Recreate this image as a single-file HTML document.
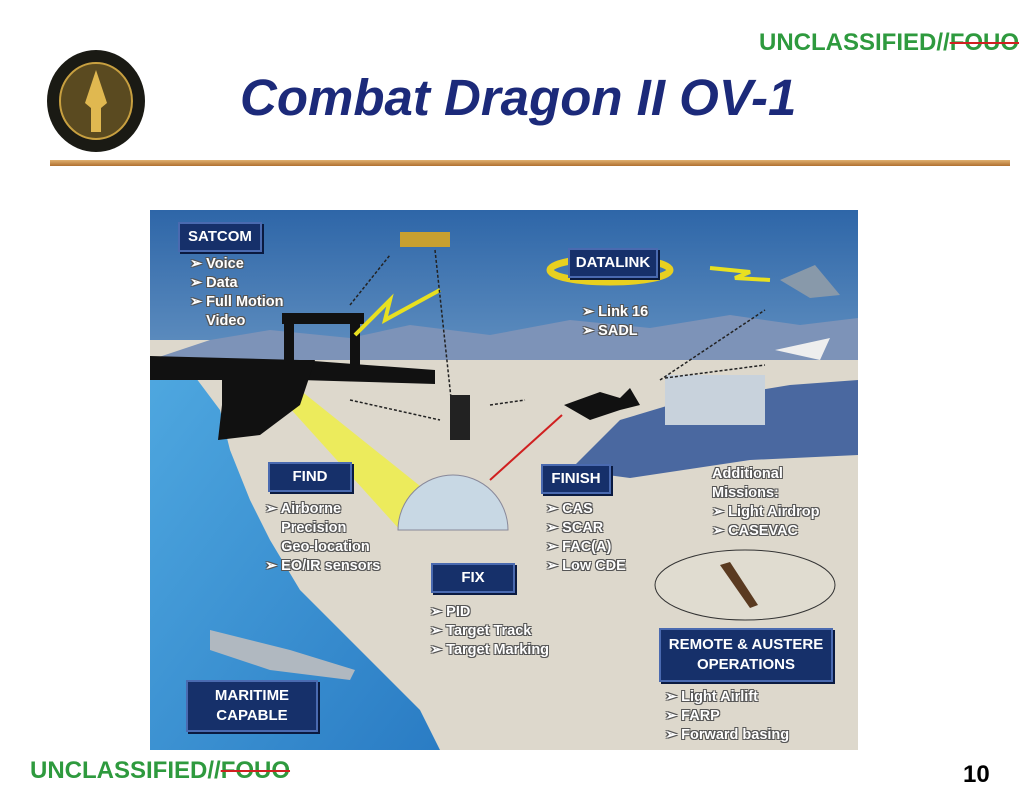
<!DOCTYPE html>
<html><head><meta charset="utf-8"><style>
body{margin:0;width:1035px;height:800px;background:#fff;position:relative;overflow:hidden;font-family:"Liberation Sans",sans-serif}
.a{position:absolute}
.box{position:absolute;background:#16306a;border:2px solid #4a6ab0;box-shadow:2px 2px 0 #0a1a40;color:#fff;font-weight:bold;font-size:15px;text-align:center;display:flex;align-items:center;justify-content:center;line-height:20px}
.t{position:absolute;color:#fff;font-weight:bold;font-size:14.5px;line-height:19px;text-shadow:-1px -1px 0 #555,1px -1px 0 #555,-1px 1px 0 #555,1px 1px 0 #555;white-space:nowrap}
.u{position:absolute;color:#2e9a3e;font-weight:bold;font-size:24px}
.u s{text-decoration-color:#d02020;text-decoration-thickness:2px}
</style></head><body>
<div class="u" style="left:759px;top:29px">UNCLASSIFIED//<s>FOUO</s></div>
<div class="u" style="left:30px;top:757px">UNCLASSIFIED//<s>FOUO</s></div>
<div class="a" style="left:963px;top:761px;font-size:24px;font-weight:bold">10</div>
<svg class="a" style="left:45px;top:48px" width="102" height="106">
<ellipse cx="51" cy="53" rx="49" ry="51" fill="#1a1a14"/>
<ellipse cx="51" cy="53" rx="36" ry="38" fill="#5a4a20" stroke="#c8a040" stroke-width="2"/>
<path d="M51 22 L62 55 L56 60 L56 84 L46 84 L46 60 L40 55 Z" fill="#e0b850"/>
</svg>
<div class="a" style="left:240px;top:68px;font-size:51px;font-weight:bold;font-style:italic;color:#1c2a7a">Combat Dragon II OV-1</div>
<div class="a" style="left:50px;top:160px;width:960px;height:6px;background:linear-gradient(#e0b070,#b07030)"></div>

<svg class="a" style="left:150px;top:210px" width="708" height="540">
<defs>
<linearGradient id="sky" x1="0" y1="0" x2="0" y2="1"><stop offset="0" stop-color="#2e66a8"/><stop offset="0.6" stop-color="#9cc0dc"/><stop offset="1" stop-color="#e4eef4"/></linearGradient>
<linearGradient id="sea" x1="0" y1="0" x2="1" y2="1"><stop offset="0" stop-color="#4fa8e0"/><stop offset="1" stop-color="#2a7cc4"/></linearGradient>
</defs>
<rect width="708" height="540" fill="url(#sky)"/>
<rect y="130" width="708" height="410" fill="#ddd8cc"/>
<path d="M60 130 L120 120 L200 128 L260 115 L340 125 L420 110 L500 118 L580 105 L650 115 L708 108 L708 150 L0 150 Z" fill="#7d93b8"/>
<path d="M420 260 L470 210 L520 195 L580 185 L640 175 L708 170 L708 245 L600 250 L480 268 Z" fill="#4a68a0"/>
<rect x="515" y="165" width="100" height="50" fill="#c8d2dc"/>
<path d="M0 150 L40 160 L70 200 L80 240 L100 290 L120 330 L150 380 L200 430 L240 470 L270 500 L290 540 L0 540 Z" fill="url(#sea)"/>
<path d="M128 185 L150 180 L300 300 L250 320 Z" fill="#f0f040" opacity="0.8"/>
<path d="M0 146 L150 150 L285 160 L285 174 L150 170 L0 170 Z" fill="#111"/>
<path d="M72 150 L165 150 L150 195 L110 225 L68 230 L72 195 Z" fill="#111"/>
<rect x="132" y="103" width="82" height="11" fill="#111"/>
<rect x="134" y="110" width="10" height="70" fill="#111"/>
<rect x="200" y="110" width="10" height="60" fill="#111"/>
<path d="M414 195 L450 182 L470 188 L480 178 L490 195 L470 200 L440 210 Z" fill="#111"/>
<line x1="340" y1="270" x2="412" y2="205" stroke="#d02020" stroke-width="2"/>
<path d="M248 320 A55 55 0 0 1 358 320 Z" fill="#c8d8e4" stroke="#889" stroke-width="1"/>
<ellipse cx="460" cy="60" rx="60" ry="12" fill="none" stroke="#e8d020" stroke-width="7"/>
<path d="M560 58 L600 62 L585 68 L620 70" stroke="#e8e020" stroke-width="4" fill="none"/>
<path d="M205 125 L240 90 L235 110 L290 80" stroke="#e8e020" stroke-width="4" fill="none"/>
<path d="M630 70 L665 55 L690 85 L660 88 Z" fill="#8899aa"/>
<path d="M625 140 L680 128 L670 150 Z" fill="#eee"/>
<rect x="250" y="22" width="50" height="15" fill="#c8a030"/>
<g stroke="#222" stroke-width="1.5" stroke-dasharray="3,2" fill="none">
<line x1="200" y1="95" x2="240" y2="45"/><line x1="285" y1="40" x2="305" y2="225"/>
<line x1="200" y1="190" x2="290" y2="210"/><line x1="340" y1="195" x2="375" y2="190"/>
<line x1="510" y1="170" x2="615" y2="100"/><line x1="515" y1="168" x2="615" y2="155"/>
</g>
<rect x="300" y="185" width="20" height="45" fill="#222"/>
<path d="M60 420 L140 440 L205 460 L200 470 L120 460 L60 440 Z" fill="#b0b8c0"/>
<ellipse cx="595" cy="375" rx="90" ry="35" fill="#e0dcd0" stroke="#333" stroke-width="1"/>
<path d="M570 355 L600 398 L608 395 L580 352 Z" fill="#5a3a20"/>
</svg>

<div class="box" style="left:178px;top:222px;width:80px;height:26px">SATCOM</div>
<div class="t" style="left:190px;top:255px">➢ Voice<br>➢ Data<br>➢ Full Motion<br>&nbsp;&nbsp;&nbsp;&nbsp;Video</div>
<div class="box" style="left:568px;top:248px;width:86px;height:26px">DATALINK</div>
<div class="t" style="left:582px;top:303px">➢ Link 16<br>➢ SADL</div>
<div class="box" style="left:268px;top:462px;width:80px;height:26px">FIND</div>
<div class="t" style="left:265px;top:500px">➢ Airborne<br>&nbsp;&nbsp;&nbsp;&nbsp;Precision<br>&nbsp;&nbsp;&nbsp;&nbsp;Geo-location<br>➢ EO/IR sensors</div>
<div class="box" style="left:541px;top:464px;width:66px;height:26px">FINISH</div>
<div class="t" style="left:546px;top:500px">➢ CAS<br>➢ SCAR<br>➢ FAC(A)<br>➢ Low CDE</div>
<div class="box" style="left:431px;top:563px;width:80px;height:26px">FIX</div>
<div class="t" style="left:430px;top:603px">➢ PID<br>➢ Target Track<br>➢ Target Marking</div>
<div class="t" style="left:712px;top:465px">Additional<br>Missions:<br>➢ Light Airdrop<br>➢ CASEVAC</div>
<div class="box" style="left:659px;top:628px;width:170px;height:50px">REMOTE &amp; AUSTERE<br>OPERATIONS</div>
<div class="t" style="left:665px;top:688px">➢ Light Airlift<br>➢ FARP<br>➢ Forward basing</div>
<div class="box" style="left:186px;top:680px;width:128px;height:48px">MARITIME<br>CAPABLE</div>
</body></html>
